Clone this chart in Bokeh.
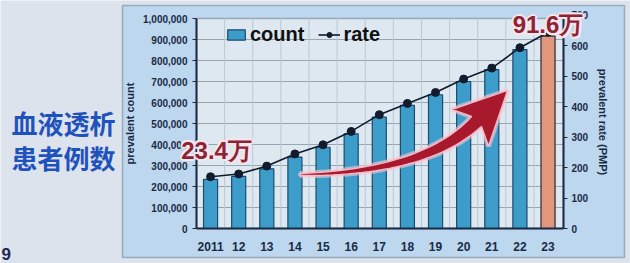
import math
from bokeh.plotting import figure
from bokeh.models import (Range1d, LinearAxis, FixedTicker, NumeralTickFormatter,
                          BoxAnnotation, Label, Legend, LegendItem, ColumnDataSource)
from bokeh.embed import file_html
from bokeh.resources import INLINE

# ---------------- data ----------------
years = ["2011", "12", "13", "14", "15", "16", "17", "18", "19", "20", "21", "22", "23"]
count = [234000, 248000, 284000, 340000, 387000, 451000, 530000, 586000,
         637000, 700000, 757000, 852000, 916000]
rate = [170, 179, 205, 245, 275, 319, 374, 411, 447, 491, 527, 594, 645]
count_ticks = [0, 100000, 200000, 300000, 400000, 500000, 600000, 700000,
               800000, 900000, 1000000]
rate_ticks = [0, 100, 200, 300, 400, 500, 600, 700]
title_lines = ["血液透析", "患者例数"]

# ---------------- layout (pixel geometry of the chart area) ----------------
W, H = 630, 263
PL, PR, PT, PB = 196, 563, 18, 228          # plot-area edges in canvas pixels
X0, X1 = -0.5, 12.55                        # category range of the plot area
Y1 = 1000000                                # count axis top
R1 = 690                                    # rate value at the plot-area top
sx = (PR - PL) / (X1 - X0)                  # px per category
sy = (PB - PT) / Y1                         # px per count unit
sr = (PB - PT) / R1                         # px per rate unit

# the frame covers the whole canvas; axes are pinned with fixed_location
XF0, XF1 = X0 - PL / sx, X1 + (W - PR) / sx
YF0, YF1 = -(H - PB) / sy, Y1 + PT / sy
RF0, RF1 = -(H - PB) / sr, R1 + PT / sr

def to_data(px, py):
    return (X0 + (px - PL) / sx, (PB - py) / sy)

FONT = "Liberation Sans"
CJK = "Noto Sans CJK SC"
INK = "#1a2a44"

p = figure(width=W, height=H, output_backend="svg", toolbar_location=None,
           x_range=Range1d(XF0, XF1), y_range=Range1d(YF0, YF1),
           min_border=0, background_fill_color="#dde3ec", border_fill_color="#dde3ec",
           outline_line_color=None)
p.extra_y_ranges = {"rate": Range1d(RF0, RF1)}
p.grid.visible = False

# slide panel and plot area
(pl, pt), (pr, pb) = to_data(122, 5), to_data(624, 257)
p.add_layout(BoxAnnotation(left=pl, right=pr, top=pt, bottom=pb,
                           fill_color="#bcd7ee", fill_alpha=1,
                           line_color="#26344c", line_width=1.5, level="underlay"))
p.add_layout(BoxAnnotation(left=X0, right=X1, bottom=0, top=Y1,
                           fill_color="#dde8f1", fill_alpha=1,
                           line_color="#1d2b40", line_width=1.5, level="underlay"))

# ---------------- axes ----------------
def style_axis(ax):
    ax.axis_label_text_font = FONT
    ax.axis_label_text_font_size = "11px"
    ax.axis_label_text_font_style = "bold"
    ax.axis_label_text_color = INK
    ax.major_label_text_font = FONT
    ax.major_label_text_font_size = "10px"
    ax.major_label_text_font_style = "bold"
    ax.major_label_text_color = INK
    ax.major_tick_out = 4
    ax.major_tick_in = 0
    ax.minor_tick_line_color = None
    ax.axis_line_width = 2
    ax.axis_line_color = INK
    ax.major_tick_line_color = INK

ya = p.yaxis[0]
style_axis(ya)
ya.fixed_location = X0
ya.bounds = (0, Y1)
ya.ticker = FixedTicker(ticks=count_ticks)
ya.formatter = NumeralTickFormatter(format="0,0")
ya.axis_label = "prevalent count"
ya.axis_label_standoff = 4
ya.major_label_standoff = 5

xa = p.xaxis[0]
style_axis(xa)
xa.fixed_location = 0
xa.bounds = (X0, X1)
xa.ticker = FixedTicker(ticks=list(range(len(years))))
xa.major_label_overrides = {i: y for i, y in enumerate(years)}
xa.major_label_text_font_size = "12px"
xa.major_label_standoff = 9
xa.major_tick_line_color = None

ra = LinearAxis(y_range_name="rate", ticker=FixedTicker(ticks=rate_ticks),
                axis_label="prevalent rate (PMP)")
style_axis(ra)
ra.fixed_location = X1
ra.bounds = (0, rate_ticks[-1])
ra.axis_label_standoff = 6
ra.major_label_standoff = 4
p.add_layout(ra, "right")

# grid lines (from the tick lists)
gy = count_ticks[1:-1]
p.segment(x0=[X0] * len(gy), x1=[X1] * len(gy), y0=gy, y1=gy,
          line_color="#98a6b2", line_width=1)
gx = [i + 0.5 for i in range(len(years) - 1)]
p.segment(x0=gx, x1=gx, y0=[0] * len(gx), y1=[Y1] * len(gx),
          line_color="#bac8d3", line_width=1)

# ---------------- bars ----------------
xs = list(range(len(years)))
src_blue = ColumnDataSource(dict(x=xs[:-1], top=count[:-1]))
src_last = ColumnDataSource(dict(x=xs[-1:], top=count[-1:]))
bars = p.vbar(x="x", top="top", width=0.5, source=src_blue,
              fill_color="#3d9dca", line_color="#1b4b6e", line_width=1.2)
p.vbar(x="x", top="top", width=0.5, source=src_last,
       fill_color="#e2967c", line_color="#2a2a3a", line_width=1.2)

# ---------------- rate line ----------------
src_rate = ColumnDataSource(dict(x=xs, y=rate))
ln = p.line("x", "y", source=src_rate, y_range_name="rate", line_color="#101a2a", line_width=1.6)
dots = p.scatter("x", "y", source=src_rate, y_range_name="rate", size=8,
                 fill_color="#121c2c", line_color="#121c2c")

# ---------------- arrow (decoration, built in pixel space) ----------------
P0, P1, P2 = (300.0, 174.0), (425.0, 172.0), (476.0, 121.0)
sideA, sideB = [], []
N = 30
for i in range(N + 1):
    t = i / N
    bx = (1 - t) ** 2 * P0[0] + 2 * (1 - t) * t * P1[0] + t * t * P2[0]
    by = (1 - t) ** 2 * P0[1] + 2 * (1 - t) * t * P1[1] + t * t * P2[1]
    dx = 2 * (1 - t) * (P1[0] - P0[0]) + 2 * t * (P2[0] - P1[0])
    dy = 2 * (1 - t) * (P1[1] - P0[1]) + 2 * t * (P2[1] - P1[1])
    L = math.hypot(dx, dy)
    tx, ty = dx / L, dy / L
    nx, ny = -ty, tx
    w = 2 + 12 * t
    sideA.append((bx + nx * w / 2, by + ny * w / 2))
    sideB.append((bx - nx * w / 2, by - ny * w / 2))
nx, ny = -ty, tx
tip = (P2[0] + 44 * tx, P2[1] + 44 * ty)
barbA = (P2[0] + 26 * nx - 9 * tx, P2[1] + 26 * ny - 9 * ty)
barbB = (P2[0] - 26 * nx - 9 * tx, P2[1] - 26 * ny - 9 * ty)
poly = sideA + [barbA, tip, barbB] + sideB[::-1]
ax_, ay_ = zip(*[to_data(*pt) for pt in poly])
p.patch(list(ax_), list(ay_), fill_color="#f2b3c2", fill_alpha=0.6, line_color="#f7c9d4",
        line_width=5, line_alpha=0.6)
p.patch(list(ax_), list(ay_), fill_color="#a8192d", line_color="#f6b8c6", line_width=1.5)

# ---------------- legend ----------------
legend = Legend(items=[LegendItem(label="count", renderers=[bars]),
                       LegendItem(label="rate", renderers=[ln, dots])],
                orientation="horizontal", location=(PL + 29, H - PT - 28),
                background_fill_alpha=0, border_line_color=None,
                label_text_font=FONT, label_text_font_size="20px",
                label_text_font_style="bold", label_text_color="#111111",
                glyph_width=22, glyph_height=13, spacing=14, padding=0, margin=0,
                label_standoff=3)
p.add_layout(legend)

# ---------------- value callouts ----------------
def callout(idx, dx_px, rise_px):
    txt = f"{count[idx] / 10000:.1f}万"
    x = idx + dx_px / sx
    y = count[idx] + rise_px / sy
    for ox, oy in [(-2, 0), (2, 0), (0, -2), (0, 2), (-1.5, -1.5), (1.5, 1.5), (-1.5, 1.5), (1.5, -1.5)]:
        p.add_layout(Label(x=x + ox / sx, y=y + oy / sy, text=txt,
                           text_font=FONT, text_font_size="24px", text_font_style="bold",
                           text_color="#f6e6ec", text_align="center", text_baseline="alphabetic"))
    p.add_layout(Label(x=x, y=y, text=txt,
                       text_font=FONT, text_font_size="24px", text_font_style="bold",
                       text_color="#8e2336", text_align="center", text_baseline="alphabetic"))

callout(0, 6, 29)
callout(len(years) - 1, 0, 11.5)

# ---------------- slide title ----------------
for i, line in enumerate(title_lines):
    tx_, ty_ = to_data(63, 122 + 35 * i)
    p.add_layout(Label(x=tx_, y=ty_, text=line,
                       text_font=CJK, text_font_size="26px", text_font_style="bold",
                       text_color="#1f52bd", text_align="center", text_baseline="middle"))
nx_, ny_ = to_data(1, 253)
p.add_layout(Label(x=nx_, y=ny_, text="9",
                   text_font=FONT, text_font_size="17px", text_font_style="bold",
                   text_color="#1a2a50", text_align="left", text_baseline="middle"))

open("out.html", "w").write(file_html(p, INLINE))
